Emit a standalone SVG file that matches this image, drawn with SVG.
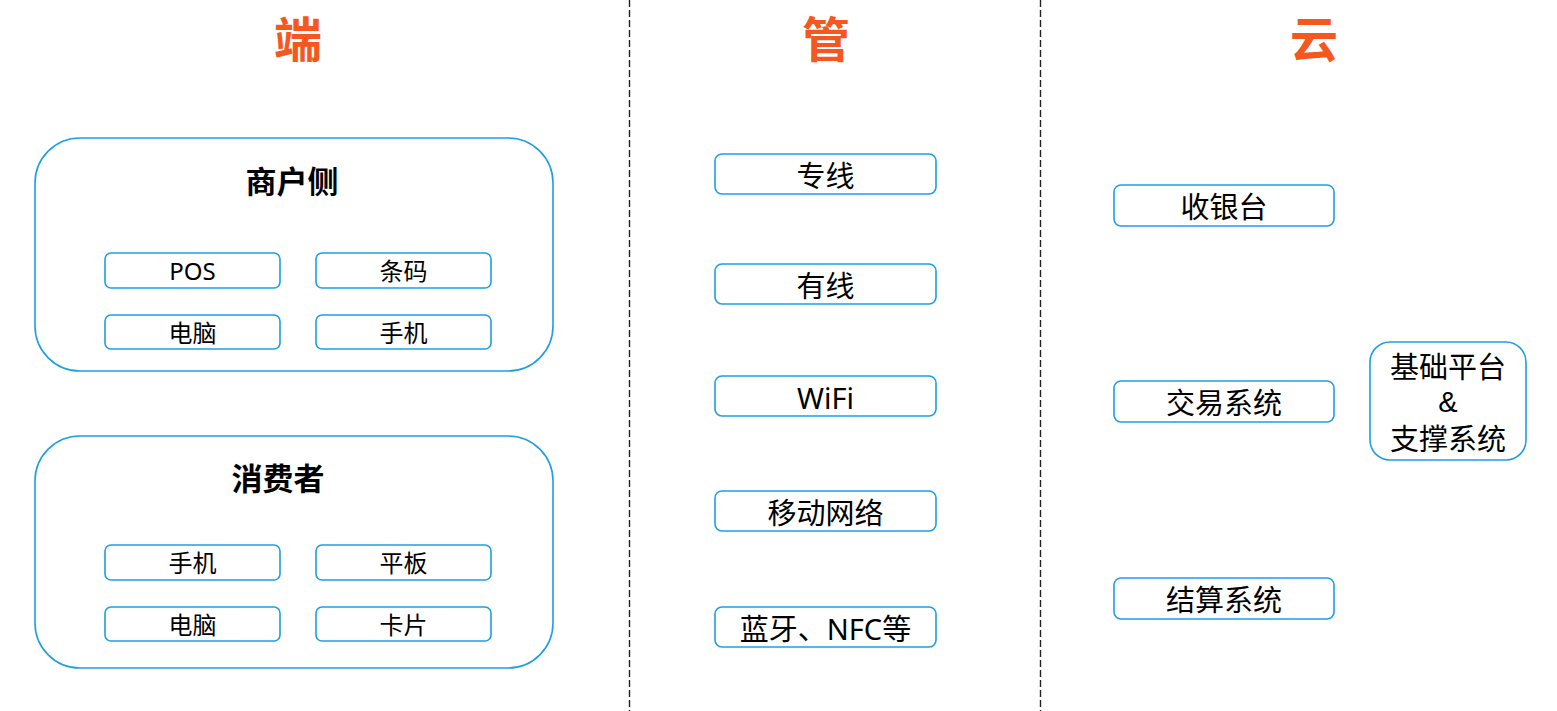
<svg xmlns="http://www.w3.org/2000/svg" width="1557" height="711" viewBox="0 0 1557 711">
<style>
text{font-family:"Noto Sans","Noto Sans CJK SC",sans-serif;fill:#000;text-anchor:middle;dominant-baseline:central}
.title{font-size:48px;font-weight:bold;fill:#F4581E}
.group{fill:#fff;stroke:#1E9FE3;stroke-width:1.6}
.box{fill:#fff;stroke:#1E9FE3;stroke-width:1.6}
.sub{font-size:31px;font-weight:bold}
.s{font-size:24px}
.m{font-size:29px}
.amp{font-family:"Liberation Sans",sans-serif}
.sep{stroke:#222;stroke-width:1.4;stroke-dasharray:7 3}
</style>
<rect width="1557" height="711" fill="#fff"/>
<g id="connectors">
<line class="sep" x1="629.5" y1="0" x2="629.5" y2="711"/>
<line class="sep" x1="1040.5" y1="0" x2="1040.5" y2="711"/>
</g>
<g id="titles">
<text class="title" x="298" y="38">端</text>
<text class="title" x="826" y="38">管</text>
<text class="title" x="1314" y="38">云</text>
</g>
<g id="merchant">
<rect class="group" x="35" y="138" width="518" height="233" rx="45"/>
<text class="sub" x="292" y="181">商户侧</text>
</g>
<g id="m-pos"><rect class="box" x="105" y="253" width="175" height="35" rx="6"/><text class="s" x="192.5" y="270.5">POS</text></g>
<g id="m-barcode"><rect class="box" x="316" y="253" width="175" height="35" rx="6"/><text class="s" x="403.5" y="270.5">条码</text></g>
<g id="m-pc"><rect class="box" x="105" y="315" width="175" height="34" rx="6"/><text class="s" x="192.5" y="332">电脑</text></g>
<g id="m-phone"><rect class="box" x="316" y="315" width="175" height="34" rx="6"/><text class="s" x="403.5" y="332">手机</text></g>
<g id="consumer">
<rect class="group" x="35" y="436" width="518" height="232" rx="45"/>
<text class="sub" x="278" y="478">消费者</text>
</g>
<g id="c-phone"><rect class="box" x="105" y="545" width="175" height="35" rx="6"/><text class="s" x="192.5" y="562.5">手机</text></g>
<g id="c-pad"><rect class="box" x="316" y="545" width="175" height="35" rx="6"/><text class="s" x="403.5" y="562.5">平板</text></g>
<g id="c-pc"><rect class="box" x="105" y="607" width="175" height="34" rx="6"/><text class="s" x="192.5" y="624">电脑</text></g>
<g id="c-card"><rect class="box" x="316" y="607" width="175" height="34" rx="6"/><text class="s" x="403.5" y="624">卡片</text></g>
<g id="p-line"><rect class="box" x="715" y="154" width="221" height="40" rx="7"/><text class="m" x="825.5" y="175">专线</text></g>
<g id="p-wired"><rect class="box" x="715" y="264" width="221" height="40" rx="7"/><text class="m" x="825.5" y="285">有线</text></g>
<g id="p-wifi"><rect class="box" x="715" y="376" width="221" height="40" rx="7"/><text class="m" x="825.5" y="397">WiFi</text></g>
<g id="p-mobile"><rect class="box" x="715" y="491" width="221" height="40" rx="7"/><text class="m" x="825.5" y="512">移动网络</text></g>
<g id="p-bt"><rect class="box" x="715" y="607" width="221" height="40" rx="7"/><text class="m" x="825.5" y="628">蓝牙、NFC等</text></g>
<g id="cashier"><rect class="box" x="1114" y="185" width="220" height="41" rx="7"/><text class="m" x="1224" y="206.5">收银台</text></g>
<g id="trade"><rect class="box" x="1114" y="381" width="220" height="41" rx="7"/><text class="m" x="1224" y="402.5">交易系统</text></g>
<g id="settle"><rect class="box" x="1114" y="578" width="220" height="41" rx="7"/><text class="m" x="1224" y="599.5">结算系统</text></g>
<g id="platform"><rect class="box" x="1370" y="342" width="156" height="118" rx="20"/>
<text class="m" x="1448" y="366">基础平台</text>
<text class="m amp" x="1448" y="402">&amp;</text>
<text class="m" x="1448" y="438">支撑系统</text>
</g>
</svg>
